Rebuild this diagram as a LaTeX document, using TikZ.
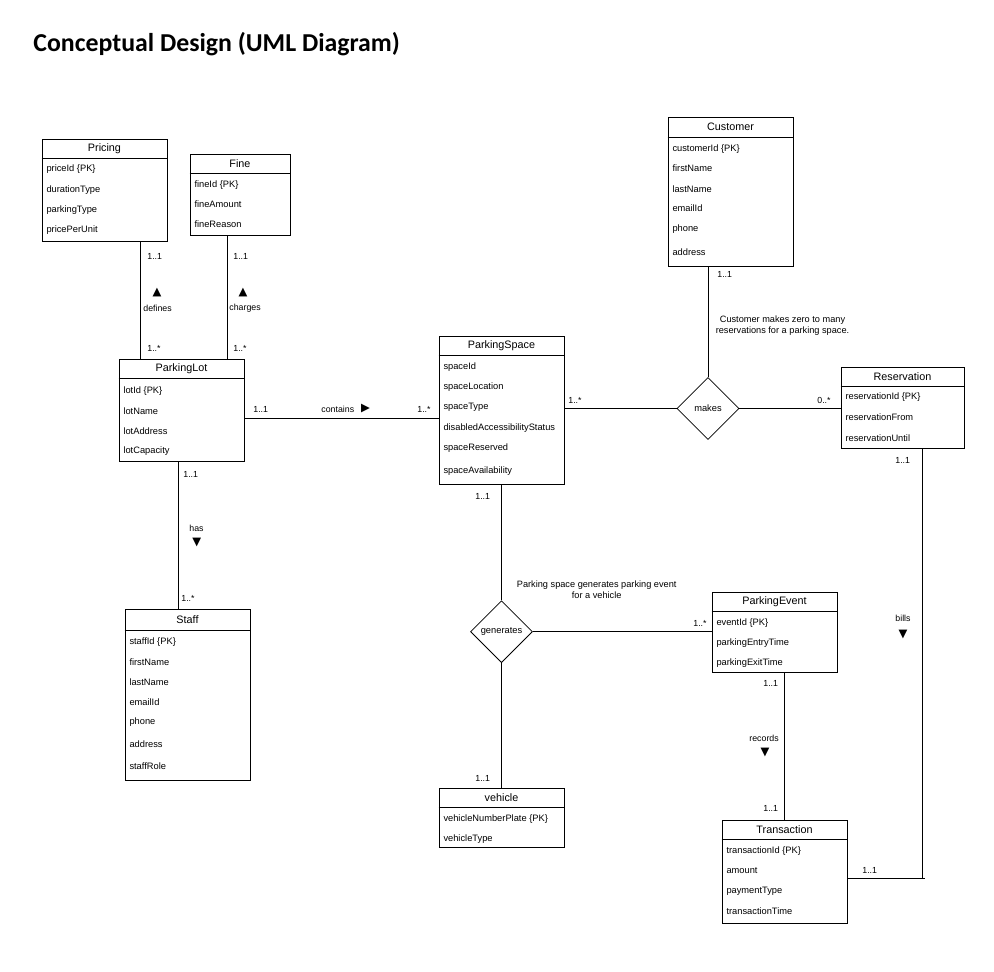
\documentclass[tikz,border=0pt]{standalone}
\usepackage{fontspec}
\setmainfont{Liberation Sans}
\newfontfamily\headingfont{Carlito}
\newfontfamily\glyphfont{DejaVu Sans}
\usetikzlibrary{shapes.geometric,calc}

\begin{document}
\begin{tikzpicture}[x=1pt, y=-1pt, line width=0.8pt]
        % One unit is one pixel of the page, y runs downwards
        \tikzset{
            classbox/.style={draw, rectangle, inner sep=0pt},
            classtitle/.style={inner sep=0pt, font=\fontsize{10.8}{12}\selectfont},
            attr/.style={anchor=west, inner sep=0pt, font=\fontsize{9.3}{11}\selectfont},
            relation/.style={draw, diamond, inner sep=0pt, minimum width=62, minimum height=62,
                font=\fontsize{9.3}{11}\selectfont},
            mult/.style={anchor=west, inner sep=0pt, font=\fontsize{8.8}{10}\selectfont},
            dirmark/.style={inner sep=0pt, font=\glyphfont\fontsize{11.5}{11.5}\selectfont},
            note/.style={align=center, inner sep=0pt, font=\fontsize{9.2}{10.7}\selectfont},
        }

        \fill[white, use as bounding box] (0,0) rectangle (994,972);

        \node[anchor=base west, inner sep=0pt, font=\headingfont\bfseries\fontsize{25.8}{28}\selectfont]
            (title) at (33,51) {Conceptual Design (UML Diagram)};

        % Class boxes
        \node[classbox, minimum width=125, minimum height=102] (pricing) at (104.5,190) {};
        \node[classbox, minimum width=100, minimum height=81] (fine) at (240,194.5) {};
        \node[classbox, minimum width=125, minimum height=102] (lot) at (181.5,410) {};
        \node[classbox, minimum width=125, minimum height=171] (staff) at (187.5,695) {};
        \node[classbox, minimum width=125, minimum height=148] (space) at (501.5,410) {};
        \node[classbox, minimum width=125, minimum height=148.5] (customer) at (730.5,191.75) {};
        \node[classbox, minimum width=123, minimum height=81] (reservation) at (902.5,407.5) {};
        \node[classbox, minimum width=125, minimum height=80] (event) at (774.5,632) {};
        \node[classbox, minimum width=125, minimum height=59] (vehicle) at (501.5,817.5) {};
        \node[classbox, minimum width=125, minimum height=103] (transaction) at (784.5,871.5) {};

        % Headers
        \foreach \cls/\name in {pricing/Pricing, fine/Fine, lot/ParkingLot, space/ParkingSpace,
            customer/Customer, reservation/Reservation, event/ParkingEvent,
            vehicle/vehicle, transaction/Transaction} {
            \node[classtitle] at ([yshift=-10]\cls.north) {\name};
            \draw ([yshift=-20]\cls.north west) -- ([yshift=-20]\cls.north east);
        }
        \node[classtitle] at ([yshift=-10.5]staff.north) {Staff};
        \draw ([yshift=-21]staff.north west) -- ([yshift=-21]staff.north east);

        % Attributes
        \foreach \dy/\txt in {30/priceId \{PK\}, 51/durationType, 71/parkingType, 91/pricePerUnit}
            \node[attr] at ([xshift=4.5,yshift=-\dy]pricing.north west) {\txt};
        \foreach \dy/\txt in {31/fineId \{PK\}, 51/fineAmount, 71/fineReason}
            \node[attr] at ([xshift=4.5,yshift=-\dy]fine.north west) {\txt};
        \foreach \dy/\txt in {32.5/lotId \{PK\}, 52.5/lotName, 72.5/lotAddress, 92.5/lotCapacity}
            \node[attr] at ([xshift=4.5,yshift=-\dy]lot.north west) {\txt};
        \foreach \dy/\txt in {33/staffId \{PK\}, 53/firstName, 73/lastName, 93/emailId,
            113/phone, 135/address, 157.5/staffRole}
            \node[attr] at ([xshift=4.5,yshift=-\dy]staff.north west) {\txt};
        \foreach \dy/\txt in {31/spaceId, 51/spaceLocation, 72/spaceType,
            92/disabledAccessibilityStatus, 112/spaceReserved, 135.5/spaceAvailability}
            \node[attr] at ([xshift=4.5,yshift=-\dy]space.north west) {\txt};
        \foreach \dy/\txt in {31.5/customerId \{PK\}, 51.5/firstName, 72.5/lastName, 91.5/emailId,
            111.5/phone, 135.5/address}
            \node[attr] at ([xshift=4.5,yshift=-\dy]customer.north west) {\txt};
        \foreach \dy/\txt in {30.5/reservationId \{PK\}, 51/reservationFrom, 72/reservationUntil}
            \node[attr] at ([xshift=4.5,yshift=-\dy]reservation.north west) {\txt};
        \foreach \dy/\txt in {31/eventId \{PK\}, 51/parkingEntryTime, 71/parkingExitTime}
            \node[attr] at ([xshift=4.5,yshift=-\dy]event.north west) {\txt};
        \foreach \dy/\txt in {31/vehicleNumberPlate \{PK\}, 51/vehicleType}
            \node[attr] at ([xshift=4.5,yshift=-\dy]vehicle.north west) {\txt};
        \foreach \dy/\txt in {31/transactionId \{PK\}, 51/amount, 72/paymentType, 92/transactionTime}
            \node[attr] at ([xshift=4.5,yshift=-\dy]transaction.north west) {\txt};

        % Relationship diamonds
        \node[relation] (makes) at (708,408.5) {makes};
        \node[relation] (generates) at (501.5,631.7) {generates};

        % Connectors
        \draw ([xshift=35.5]pricing.south) -- ([xshift=35.5]pricing.south |- lot.north);
        \draw ([xshift=-13]fine.south) -- ([xshift=-13]fine.south |- lot.north);
        \draw ([yshift=-8.3]lot.east) -- ([yshift=-8.3]lot.east -| space.west);
        \draw ([xshift=-3.2]lot.south) -- ([xshift=-3.2]lot.south |- staff.north);
        \draw (makes.west -| space.east) -- (makes.west);
        \draw (makes.north |- customer.south) -- (makes.north);
        \draw (makes.east) -- (makes.east -| reservation.west);
        \draw (space.south) -- (generates.north);
        \draw (generates.east) -- (generates.east -| event.west);
        \draw (generates.south) -- (vehicle.north);
        \draw ([xshift=9.8]event.south) -- ([xshift=9.8]event.south |- transaction.north);

        \path ([xshift=19.5]reservation.south) coordinate (billsTop);
        \path ([yshift=-6.5]transaction.east) coordinate (billsEnd);
        \coordinate (billsCorner) at (billsTop |- billsEnd);
        \draw (billsTop) -- (billsCorner);
        \draw (billsEnd) -- ([xshift=3]billsCorner);

        % Multiplicities
        \foreach \px/\py/\txt in {147/256/1..1, 147/348/1..*, 233/256/1..1, 233/348/1..*,
            253/409/1..1, 417/409/1..*, 183/474/1..1, 181/598/1..*,
            568/400/1..*, 817/400/0..*, 717/274/1..1, 475/496/1..1,
            693/623/1..*, 475/778/1..1, 763/683/1..1, 763/808/1..1,
            895/460/1..1, 862/870/1..1}
            \node[mult] at (\px,\py) {\txt};

        % Role names and reading directions
        \node[mult] at (143,308) {defines};
        \node[mult] at (229,308) {charges};
        \node[mult] at (321,409) {contains};
        \node[mult] at (189,528) {has};
        \node[mult] at (749,738) {records};
        \node[mult] at (895,618) {bills};

        \node[dirmark] at (157,293) {▲};
        \node[dirmark] at (243,293) {▲};
        \node[dirmark] at (365.5,409) {▶};
        \node[dirmark] at (196.7,543) {▼};
        \node[dirmark] at (765,753) {▼};
        \node[dirmark] at (903,635) {▼};

        % Notes
        \node[note] at (782.5,325.5) {Customer makes zero to many\\reservations for a parking space.};
        \node[note] at (596.7,590) {Parking space generates parking event\\for a vehicle};

\end{tikzpicture}
\end{document}
